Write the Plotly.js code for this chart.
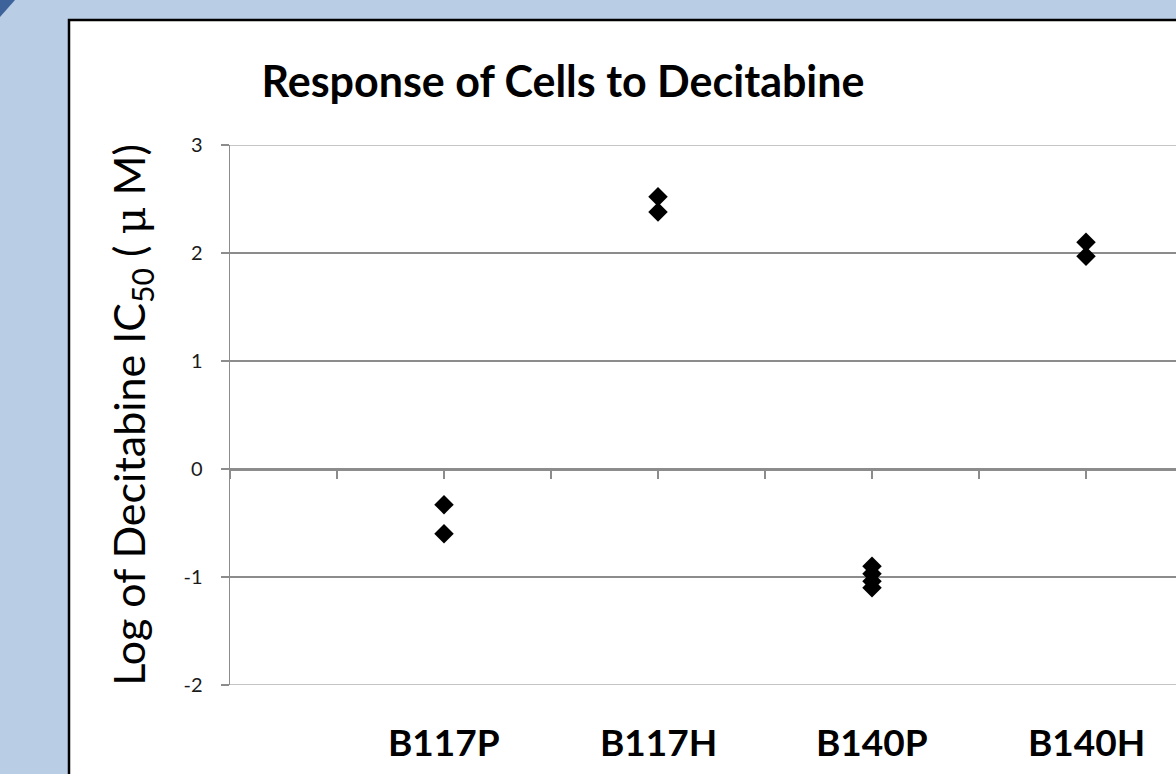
<!DOCTYPE html>
<html><head><meta charset="utf-8">
<script src="https://cdn.plot.ly/plotly-3.0.1.min.js"></script>
<style>html,body{margin:0;padding:0;overflow:hidden;background:#b9cde5;}</style>
</head><body>
<div id="chart" style="width:1176px;height:774px;"></div>
<script>
const categories = ['B117P', 'B117H', 'B140P', 'B140H'];
const b117pValues = [-0.33, -0.60];
const b117hValues = [2.52, 2.38];
const b140pValues = [-0.90, -0.97, -1.04, -1.10];
const b140hValues = [2.10, 1.97];
const yTicks = [-2, -1, 0, 1, 2, 3];
const yTickLabels = ['-2', '-1', '0', '1', '2', '3'];

const groups = [b117pValues, b117hValues, b140pValues, b140hValues];
const xs = [], ys = [];
groups.forEach((vals, i) => vals.forEach(v => { xs.push(i + 1); ys.push(v); }));

// plot area in pixels: x 230..1176, y 145..685
const L = 230, R = 0, T = 145, B = 89, W = 1176, H = 774;
const pw = W - L - R, ph = H - T - B;
const px = p => (p - L) / pw;
const py = p => (H - B - p) / ph;
const yMin = yTicks[0], yMax = yTicks[yTicks.length - 1];

const trace = {
  type: 'scatter', mode: 'markers', x: xs, y: ys,
  marker: {symbol: 'diamond', size: 15, color: '#000000', line: {width: 0}},
  hoverinfo: 'skip', cliponaxis: false
};

const annotations = categories.map((c, i) => ({
  x: i + 1, xref: 'x', y: py(741), yref: 'paper', yanchor: 'middle', xanchor: 'center',
  text: '<b>' + c + '</b>', showarrow: false,
  font: {family: 'Lato, sans-serif', size: 37, color: '#000'}
}));

const gridColor = '#8c8c8c';
const layout = {
  width: W, height: H,
  margin: {l: L, r: R, t: T, b: B, pad: 0},
  paper_bgcolor: '#b9cde5', plot_bgcolor: 'rgba(0,0,0,0)',
  showlegend: false,
  title: {
    text: '<b>Response of Cells to Decitabine</b>',
    font: {family: 'Lato, sans-serif', size: 43, color: '#000'},
    x: 563 / W, xref: 'container', xanchor: 'center',
    y: 1 - 82 / H, yref: 'container', yanchor: 'middle'
  },
  xaxis: {
    range: [0, pw / 214], dtick: 0.5, tick0: 0,
    showgrid: false, zeroline: false,
    showline: true, linecolor: gridColor, linewidth: 1.5,
    ticks: 'outside', ticklen: 8, tickcolor: gridColor, tickwidth: 1.5,
    showticklabels: false,
    anchor: 'free', position: 0.4
  },
  yaxis: {
    range: [yMin, yMax], tickvals: yTicks, ticktext: yTickLabels,
    showgrid: true, gridcolor: gridColor, gridwidth: 1.2,
    zeroline: false,
    showline: true, linecolor: gridColor, linewidth: 1.5,
    ticks: 'outside', ticklen: 8, tickcolor: gridColor, tickwidth: 1.5,
    ticklabelstandoff: 14,
    tickfont: {family: 'Lato, sans-serif', size: 20, color: '#1a1a1a'},
    title: {
      text: 'Log of Decitabine IC<sub>50</sub> ( <span style="font-family:DejaVu Serif">μ</span> M)',
      font: {family: 'Lato, sans-serif', size: 43, color: '#000'},
      standoff: 24
    }
  },
  shapes: [
    {type: 'rect', xref: 'paper', yref: 'paper', layer: 'below',
     x0: px(69), x1: px(1200), y0: py(800), y1: py(20),
     fillcolor: '#ffffff', line: {color: '#000000', width: 2.5}},
    {type: 'path', xref: 'paper', yref: 'paper', layer: 'below',
     path: 'M ' + px(0) + ' ' + py(0) + ' L ' + px(15) + ' ' + py(0) + ' L ' + px(0) + ' ' + py(17) + ' Z',
     fillcolor: '#3d639a', line: {width: 0}},
    {type: 'line', xref: 'paper', yref: 'y', layer: 'below',
     x0: 0, x1: 1, y0: yMax, y1: yMax, line: {color: gridColor, width: 1.2}},
    {type: 'line', xref: 'paper', yref: 'y', layer: 'below',
     x0: 0, x1: 1, y0: yMin, y1: yMin, line: {color: gridColor, width: 1.2}}
  ],
  annotations: annotations
};

Plotly.newPlot('chart', [trace], layout, {displayModeBar: false, staticPlot: true});
</script>
</body></html>
